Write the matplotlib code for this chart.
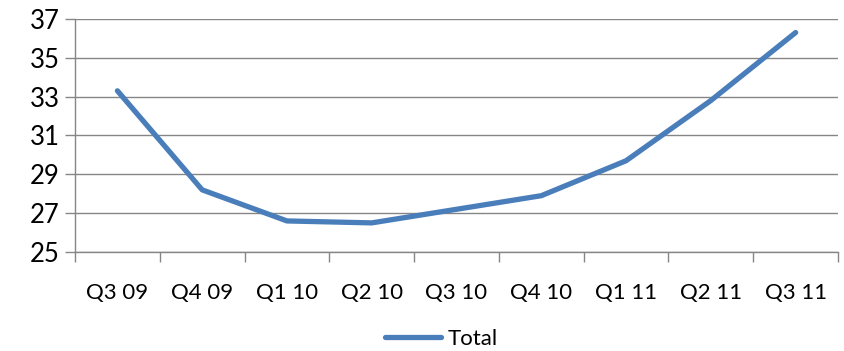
import matplotlib.pyplot as plt
import numpy as np

# Quarterly series
quarters = ["Q3 09", "Q4 09", "Q1 10", "Q2 10", "Q3 10", "Q4 10", "Q1 11", "Q2 11", "Q3 11"]
total = [33.3, 28.2, 26.6, 26.5, 27.2, 27.9, 29.7, 32.8, 36.3]

plt.rcParams['font.family'] = ['Lato', 'DejaVu Sans']

fig = plt.figure(figsize=(8.44, 3.51), dpi=100)
ax = fig.add_axes([0.0889, 0.282, 0.904, 0.664])

x = np.arange(len(quarters))
ax.plot(x, total, color="#4a7ebb", linewidth=3.8, solid_capstyle="round",
        solid_joinstyle="round", label="Total", zorder=3)

ax.set_xlim(-0.5, len(quarters) - 0.5)
ax.set_ylim(25, 37)
ax.set_yticks(range(25, 38, 2))
ax.tick_params(axis="y", labelsize=18.5, length=7, color="#868686", width=1, pad=4)

# category labels centred, tick marks between categories
ax.set_xticks(x)
ax.set_xticklabels(quarters, fontsize=16)
ax.tick_params(axis="x", length=0, pad=22)
ax.set_xticks(np.arange(-0.5, len(quarters)), minor=True)
ax.tick_params(axis="x", which="minor", length=7, color="#868686", width=1)

ax.grid(axis="y", color="#868686", linewidth=1)
ax.set_axisbelow(True)
for side in ["top", "right"]:
    ax.spines[side].set_visible(False)
for side in ["left", "bottom"]:
    ax.spines[side].set_color("#868686")
    ax.spines[side].set_linewidth(1)

fig.legend(loc="center", bbox_to_anchor=(0.523, 0.035), frameon=False, fontsize=16,
           handlelength=2.5, handletextpad=0.3)

fig.savefig("out.png", dpi=100)
